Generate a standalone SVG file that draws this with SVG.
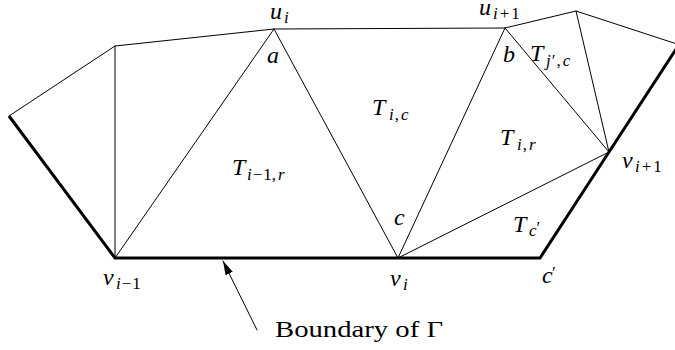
<svg xmlns="http://www.w3.org/2000/svg" width="675" height="350" viewBox="0 0 675 350">
<style>
.thin { stroke: #000; stroke-width: 1; fill: none; stroke-linecap: round; stroke-linejoin: round; }
.thick { stroke: #000; stroke-width: 3; fill: none; stroke-linejoin: miter; }
text { font-family: "Liberation Serif", "Times New Roman", serif; fill: #000; }
.m { font-size: 24px; font-style: italic; }
.s { font-size: 17px; font-style: italic; }
.u { font-style: normal; }
.r { font-size: 23.5px; }
</style>
<defs>
<marker id="ah" viewBox="0 0 14 8" refX="14" refY="4" markerWidth="14" markerHeight="8" markerUnits="userSpaceOnUse" orient="auto">
<path d="M0,0 L14,4 L0,8 Z" fill="#000"/>
</marker>
</defs>
<rect width="675" height="350" fill="#fff"/>
<g id="connectors">
<polyline class="thin" points="9,116 115,46 274,29 505,28 576,11 680,45"/>
<line class="thin" x1="115" y1="46" x2="115" y2="258"/>
<line class="thin" x1="115" y1="258" x2="274" y2="29"/>
<line class="thin" x1="274" y1="29" x2="398" y2="258"/>
<line class="thin" x1="398" y1="258" x2="505" y2="28"/>
<line class="thin" x1="505" y1="28" x2="609" y2="152"/>
<line class="thin" x1="576" y1="11" x2="609" y2="152"/>
<line class="thin" x1="398" y1="258" x2="609" y2="152"/>
<polyline class="thick" points="9,116 115,258 540,258 609,152 680,43"/>
<line class="thin" x1="257" y1="330" x2="223" y2="261" marker-end="url(#ah)"/>
</g>
<g id="label-ui">
<text class="m" x="270" y="19">u</text>
<text class="s" x="284" y="23">i</text>
</g>
<g id="label-a"><text class="m" x="267" y="63">a</text></g>
<g id="label-ui1">
<text class="m" x="479" y="15">u</text>
<text class="s" x="493" y="19">i<tspan class="u" dx="2">+</tspan><tspan class="u" dx="2">1</tspan></text>
</g>
<g id="label-b"><text class="m" x="503" y="62">b</text></g>
<g id="label-Tjc">
<text class="m" x="530" y="61">T</text>
<text class="s" x="546" y="66">j<tspan class="u" dx="1">′</tspan><tspan class="u" dx="1">,</tspan><tspan dx="2">c</tspan></text>
</g>
<g id="label-Tic">
<text class="m" x="372" y="115">T</text>
<text class="s" x="389" y="120">i<tspan class="u" dx="1">,</tspan><tspan dx="2">c</tspan></text>
</g>
<g id="label-Tir">
<text class="m" x="500" y="145">T</text>
<text class="s" x="517" y="150">i<tspan class="u" dx="1">,</tspan><tspan dx="2">r</tspan></text>
</g>
<g id="label-Ti1r">
<text class="m" x="232" y="175">T</text>
<text class="s" x="247" y="180">i<tspan class="u" dx="1">−</tspan><tspan class="u" dx="1">1</tspan><tspan class="u">,</tspan><tspan dx="2">r</tspan></text>
</g>
<g id="label-vi1">
<text class="m" x="622" y="168">v</text>
<text class="s" x="635" y="172">i<tspan class="u" dx="2">+</tspan><tspan class="u" dx="2">1</tspan></text>
</g>
<g id="label-c"><text class="m" x="394" y="225">c</text></g>
<g id="label-Tc">
<text class="m" x="513" y="232">T</text>
<text class="s" x="529" y="236">c<tspan class="u" dx="0" dy="-3">′</tspan></text>
</g>
<g id="label-vim1">
<text class="m" x="103" y="285">v</text>
<text class="s" x="116" y="289">i<tspan class="u" dx="1">−</tspan><tspan class="u" dx="1">1</tspan></text>
</g>
<g id="label-vi">
<text class="m" x="390" y="286">v</text>
<text class="s" x="403" y="290">i</text>
</g>
<g id="label-cp">
<text class="m" x="542" y="283">c</text>
<text class="s u" x="552" y="278">′</text>
</g>
<g id="label-boundary"><text class="r" x="275" y="337" textLength="168" lengthAdjust="spacingAndGlyphs">Boundary of Γ</text></g>
</svg>
